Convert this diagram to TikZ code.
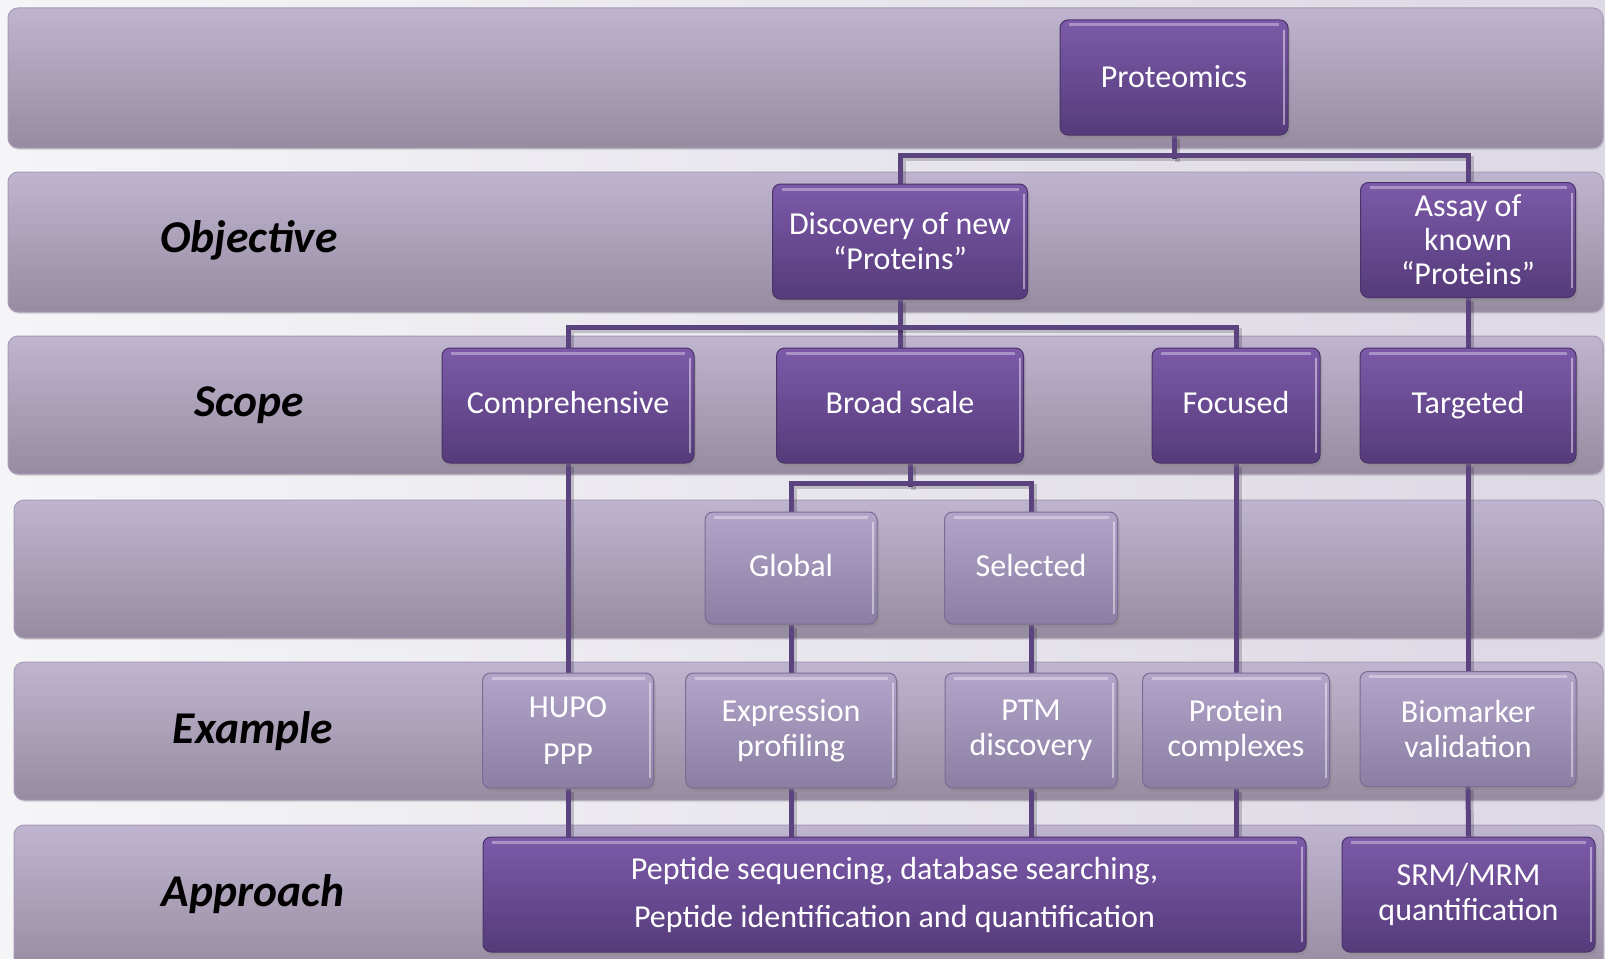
\documentclass[tikz,border=0pt]{standalone}
\usepackage{fontspec}
\setmainfont{Carlito}
\usetikzlibrary{shadows}
\definecolor{bgL}{HTML}{F5F5F7}
\definecolor{bgR}{HTML}{DCD8E4}
\definecolor{bandTop}{HTML}{BFB5D0}
\definecolor{bandBot}{HTML}{968BA0}
\definecolor{bandEdge}{HTML}{A79CB6}
\definecolor{darkTop}{HTML}{7C5AA9}
\definecolor{darkBot}{HTML}{553B7A}
\definecolor{darkEdge}{HTML}{4A3368}
\definecolor{lightTop}{HTML}{B2A5C9}
\definecolor{lightBot}{HTML}{8B7EA3}
\definecolor{lightEdge}{HTML}{7A6C92}
\definecolor{lineC}{HTML}{5B4380}
\pgfdeclarelayer{back}
\pgfdeclarelayer{links}
\pgfsetlayers{back,links,main}
\begin{document}
\begin{tikzpicture}[x=1pt,y=-1pt,
  band/.style={rounded corners=10pt, top color=bandTop, bottom color=bandBot, draw=bandEdge, line width=1pt,
    drop shadow={shadow xshift=1pt,shadow yshift=-2pt,opacity=0.2}},
  dark/.style={rectangle, rounded corners=8pt, top color=darkTop, bottom color=darkBot,
    draw=darkEdge, line width=1pt, text=white, font=\fontsize{32}{35}\selectfont,
    align=center, inner sep=0pt,
    drop shadow={shadow xshift=2pt,shadow yshift=-3pt,opacity=0.35},
    path picture={\draw[white,opacity=0.35,line width=3pt]
      ([xshift=9pt,yshift=-5pt]path picture bounding box.north west) --
      ([xshift=-9pt,yshift=-5pt]path picture bounding box.north east);
      \draw[white,opacity=0.45,line width=2pt]
      ([xshift=-4pt,yshift=-10pt]path picture bounding box.north east) --
      ([xshift=-4pt,yshift=10pt]path picture bounding box.south east);}},
  light/.style={dark, top color=lightTop, bottom color=lightBot, draw=lightEdge},
  oneline/.style={text height=23pt, text depth=7pt},
  lab/.style={font=\bfseries\itshape\fontsize{45.5}{50}\selectfont, text=black, text height=33pt, text depth=10pt},
  conn/.style={draw=lineC, line width=5pt,
    preaction={draw=black, opacity=0.18, line width=5pt, transform canvas={xshift=3pt,yshift=-3pt}}},
]
\useasboundingbox (0,0) rectangle (1605,958);
\clip (0,0) rectangle (1605,958);
\begin{pgfonlayer}{back}
\fill[left color=bgL, right color=bgR] (0,0) rectangle (1605,958);
\path[band] (8,8) rectangle (1603,148);
\path[band] (8,172) rectangle (1603,312);
\path[band] (8,336) rectangle (1603,474);
\path[band] (14,500) rectangle (1603,638);
\path[band] (14,662) rectangle (1603,800);
\path[band] (14,825) rectangle (1603,975);
\end{pgfonlayer}

\node[lab] (lobj) at (249,241) {Objective};
\node[lab] (lscope) at (249,405) {Scope};
\node[lab] (lex) at (253,732) {Example};
\node[lab] (lapp) at (253,894.5) {Approach};

\node[dark, text height=25pt, text depth=5pt, minimum width=228pt, minimum height=115pt] (prot) at (1174,77.5) {Proteomics};
\node[dark, minimum width=255pt, minimum height=115pt] (disc) at (900,241.5) {Discovery of new\\“Proteins”};
\node[dark, minimum width=215pt, minimum height=115pt, font=\fontsize{32}{34}\selectfont] (assay) at (1468,240) {Assay of\\known\\“Proteins”};

\node[dark, oneline, minimum width=252pt, minimum height=115pt] (comp) at (568,405.5) {Comprehensive};
\node[dark, oneline, minimum width=247pt, minimum height=115pt] (broad) at (900,405.5) {Broad scale};
\node[dark, oneline, minimum width=168pt, minimum height=115pt] (foc) at (1236,405.5) {Focused};
\node[dark, oneline, minimum width=216pt, minimum height=115pt] (targ) at (1468,405.5) {Targeted};

\node[light, oneline, minimum width=172pt, minimum height=112pt] (glob) at (791,568) {Global};
\node[light, oneline, minimum width=173pt, minimum height=112pt] (sel) at (1031,568) {Selected};

\node[light, minimum width=171pt, minimum height=115pt, font=\fontsize{32}{47}\selectfont] (hupo) at (568,730.5) {HUPO\\PPP};
\node[light, minimum width=211pt, minimum height=115pt] (expr) at (791,730.5) {Expression\\profiling};
\node[light, minimum width=172pt, minimum height=115pt] (ptm) at (1031,730.5) {PTM\\discovery};
\node[light, minimum width=187pt, minimum height=115pt] (pcx) at (1236,730.5) {Protein\\complexes};
\node[light, minimum width=216pt, minimum height=115pt] (bio) at (1468,729) {Biomarker\\validation};

\node[dark, minimum width=823pt, minimum height=115pt, font=\fontsize{32}{48}\selectfont] (pep) at (894.5,894.5) {Peptide sequencing, database searching,\\Peptide identification and quantification};
\node[dark, minimum width=253pt, minimum height=115pt] (srm) at (1468.5,894.5) {SRM/MRM\\quantification};

\begin{pgfonlayer}{links}
\draw[conn] (prot.south) -- ++(0,23);
\draw[conn] (disc.north) -- ++(0,-28) -| (assay.north);
\draw[conn] (disc.south) -- (broad.north);
\draw[conn] (comp.north) -- ++(0,-20) -| (foc.north);
\draw[conn] (assay.south) -- (targ.north);
\draw[conn] ([xshift=10pt]broad.south) -- ++(0,23);
\draw[conn] (glob.north) -- ++(0,-28) -| (sel.north);
\draw[conn] (comp.south) -- (hupo.north);
\draw[conn] (glob.south) -- (expr.north);
\draw[conn] (sel.south) -- (ptm.north);
\draw[conn] (foc.south) -- (pcx.north);
\draw[conn] (targ.south) -- (bio.north);
\draw[conn] (hupo.south) -- (hupo.south |- pep.north);
\draw[conn] (expr.south) -- (expr.south |- pep.north);
\draw[conn] (ptm.south) -- (ptm.south |- pep.north);
\draw[conn] (pcx.south) -- (pcx.south |- pep.north);
\draw[conn] (bio.south) -- (srm.north);
\end{pgfonlayer}
\end{tikzpicture}
\end{document}
